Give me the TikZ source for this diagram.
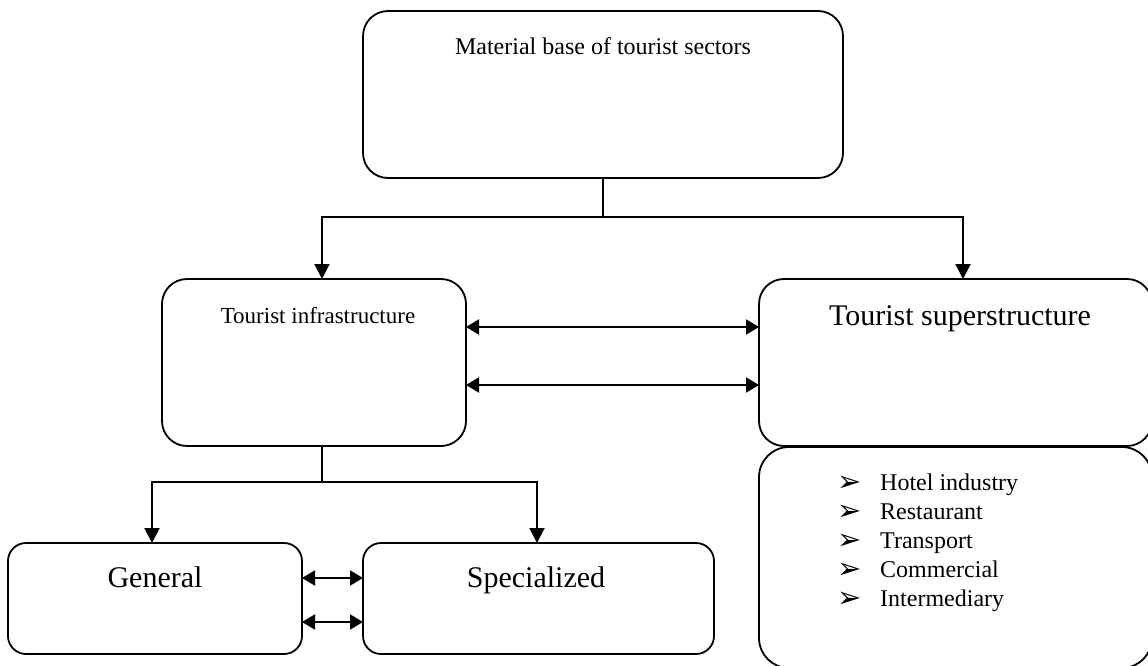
\documentclass[tikz,border=0pt]{standalone}
\usepackage{fontspec}
\setmainfont{Liberation Serif}
\newfontfamily\symfont{DejaVu Sans}
\usetikzlibrary{arrows.meta}
\begin{document}
\begin{tikzpicture}[x=1pt,y=-1pt,
  box/.style={draw, line width=1.8pt, rounded corners=25pt, inner sep=0pt, outer sep=0pt},
  txt/.style={anchor=base, inner sep=0pt},
  item/.style={anchor=base west, inner sep=0pt, font=\fontsize{24}{29}\selectfont},
  conn/.style={line width=2pt},
  arr/.style={conn,-{Triangle[length=15pt,width=15pt]}},
  darr/.style={conn,{Triangle[length=13pt,width=15pt]}-{Triangle[length=13pt,width=15pt]}}]
\useasboundingbox (0,0) rectangle (1148,666);
% boxes
\node[box, minimum width=480pt, minimum height=167pt] (top) at (603,94.5) {};
\node[box, minimum width=304pt, minimum height=167pt] (infra) at (314,362.5) {};
\node[box, minimum width=393pt, minimum height=167pt] (super) at (955.5,362.5) {};
\node[box, rounded corners=30pt, minimum width=393pt, minimum height=221pt] (list) at (955.5,557.5) {};
\node[box, rounded corners=18pt, minimum width=294pt, minimum height=111pt] (gen) at (155,598.5) {};
\node[box, rounded corners=18pt, minimum width=351pt, minimum height=111pt] (spec) at (538.5,598.5) {};
% texts
\node[txt, font=\fontsize{24}{29}\selectfont] (ttop) at (603,55) {Material base of tourist sectors};
\node[txt, font=\fontsize{23}{28}\selectfont] (tinfra) at (318,323) {Tourist infrastructure};
\node[txt, font=\fontsize{30}{36}\selectfont] (tsuper) at (960,325) {Tourist superstructure};
\node[txt, font=\fontsize{30}{36}\selectfont] (tgen) at (155,587) {General};
\node[txt, font=\fontsize{30}{36}\selectfont] (tspec) at (536,587) {Specialized};
\newcommand{\bulmark}{\makebox[43pt][l]{\raisebox{-1pt}{\symfont\fontsize{29}{29}\selectfont ➢}}}
\node[item] (i1) at (837,490) {\bulmark Hotel industry};
\node[item] (i2) at (837,519) {\bulmark Restaurant};
\node[item] (i3) at (837,548) {\bulmark Transport};
\node[item] (i4) at (837,577) {\bulmark Commercial};
\node[item] (i5) at (837,606) {\bulmark Intermediary};
% connectors
\coordinate (j1) at (603,217);
\coordinate (j2) at (322,482);
\draw[conn] (top.south) -- (j1);
\draw[arr] (j1) -| ([xshift=8pt]infra.north);
\draw[arr] (j1) -| ([xshift=7.5pt]super.north);
\draw[darr] (infra.east |- 0,327) -- (super.west |- 0,327);
\draw[darr] (infra.east |- 0,385) -- (super.west |- 0,385);
\draw[conn] ([xshift=8pt]infra.south) -- (j2);
\draw[arr] (j2) -| ([xshift=-3pt]gen.north);
\draw[arr] (j2) -| ([xshift=-1.5pt]spec.north);
\draw[darr] (gen.east |- 0,578) -- (spec.west |- 0,578);
\draw[darr] (gen.east |- 0,622) -- (spec.west |- 0,622);
\end{tikzpicture}
\end{document}
